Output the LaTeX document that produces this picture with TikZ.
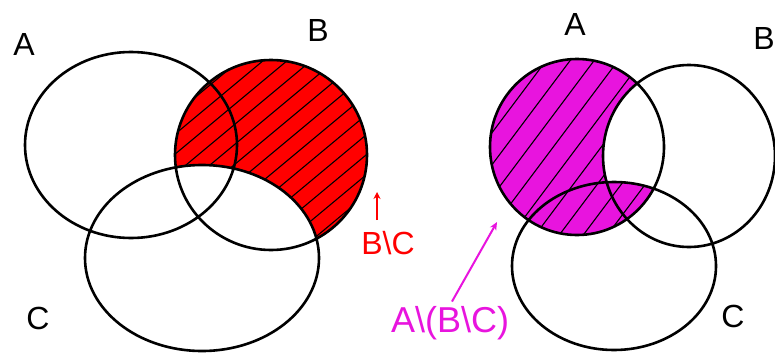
\documentclass[tikz,border=0pt]{standalone}
\usepackage{fontspec}
\setmainfont{Liberation Sans}
\usetikzlibrary{arrows.meta}
\definecolor{setred}{RGB}{255,0,0}
\definecolor{setpink}{RGB}{232,20,222}
\tikzset{
  setline/.style={line width=2.6pt},
  hatch/.style={line width=1.1pt},
  setlabel/.style={font=\fontsize{32}{32}\selectfont, inner sep=1pt},
}
% the six sets
\def\leftA{(131,145) ellipse [x radius=106, y radius=93]}
\def\leftB{(271,155) ellipse [x radius=96, y radius=95]}
\def\leftC{(202,258) ellipse [x radius=117, y radius=93]}
\def\rightA{(577,147) ellipse [x radius=87, y radius=88]}
\def\rightB{(689,156) ellipse [x radius=86, y radius=91]}
\def\rightC{(614,266) ellipse [x radius=102, y radius=84]}

\begin{document}
\begin{tikzpicture}[x=1pt,y=-1pt]
\path[fill=white, use as bounding box] (0,0) rectangle (775,356);

% B \ C
\begin{scope}[even odd rule]
\clip \leftB;
\clip (0,0) rectangle (400,356) \leftC;
\fill[setred] (0,0) rectangle (400,356);
\foreach \s in {0,24,...,400}
	\draw[hatch] (\s,260) -- (\s+240,60);
\end{scope}

% A \ (B \ C) = (A \ B) and (A cap C)
\begin{scope}[even odd rule]
\clip \rightA;
\clip (380,0) rectangle (775,356) \rightB;
\fill[setpink] (380,0) rectangle (775,356);
\foreach \s in {380,404,...,700}
	\draw[hatch] (\s,250) -- (\s+150,50);
\end{scope}
\begin{scope}
\clip \rightA;
\clip \rightC;
\fill[setpink] (380,0) rectangle (775,356);
\foreach \s in {380,404,...,700}
	\draw[hatch] (\s,250) -- (\s+150,50);
\end{scope}

\draw[setline] \leftA \leftB \leftC;
\draw[setline] \rightA \rightB \rightC;

\node[setlabel] (la) at (24,44) {A};
\node[setlabel] (lb) at (318,30) {B};
\node[setlabel] (lc) at (38,318) {C};
\node[setlabel] (ra) at (575,24) {A};
\node[setlabel] (rb) at (764,38) {B};
\node[setlabel] (rc) at (733,316) {C};

\node[setlabel, text=setred] (bminc) at (388,243) {B\textbackslash C};
\coordinate (bmincTip) at (377,192);
\draw[setred, line width=2pt, -{Stealth[length=7pt, width=7pt]}, shorten <=10pt] (bminc.north -| bmincTip) -- (bmincTip);

\node[setlabel, text=setpink, font=\fontsize{36}{36}\selectfont] (aminbc) at (450,323) {A\textbackslash(B\textbackslash C)};
\coordinate (aminbcTip) at (497,222);
\draw[setpink, line width=2pt, -{Stealth[length=8pt, width=7pt]}, shorten <=4pt] (aminbc.north) -- (aminbcTip);
\end{tikzpicture}
\end{document}
